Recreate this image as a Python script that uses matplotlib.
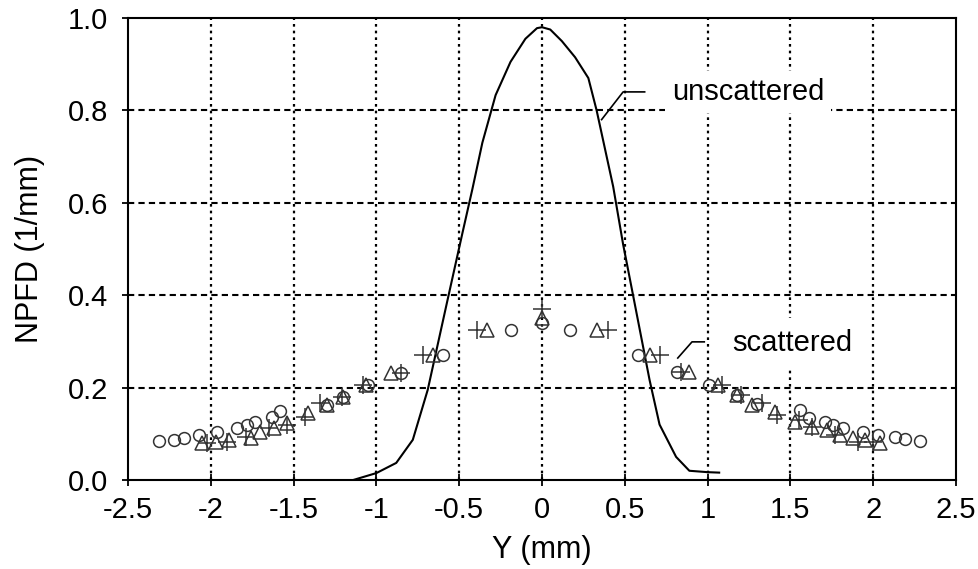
import numpy as np
import matplotlib.pyplot as plt

plt.rcParams['font.family'] = ['Liberation Sans', 'DejaVu Sans']

# unscattered profile (solid line)
y_line = [-1.14, -1.0, -0.88, -0.78, -0.69, -0.57, -0.48, -0.42, -0.36, -0.28, -0.19, -0.10,
          -0.03, 0.0, 0.05, 0.12, 0.20, 0.28, 0.33, 0.43, 0.49, 0.55, 0.65, 0.71, 0.81, 0.89,
          1.0, 1.07]
npfd_line = [0.0, 0.015, 0.037, 0.087, 0.195, 0.39, 0.535, 0.63, 0.73, 0.833, 0.905, 0.955,
             0.978, 0.98, 0.975, 0.95, 0.915, 0.87, 0.80, 0.635, 0.51, 0.40, 0.216, 0.12, 0.05,
             0.02, 0.017, 0.016]

# scattered - circles
y_circ = [-2.31, -2.22, -2.16, -2.07, -1.96, -1.84, -1.78, -1.73, -1.63, -1.58, -1.30, -1.20,
          -1.05, -0.85, -0.60, -0.19, 0.0, 0.17, 0.58, 0.815, 1.01, 1.18, 1.30, 1.56, 1.61,
          1.71, 1.76, 1.82, 1.94, 2.03, 2.13, 2.19, 2.28]
npfd_circ = [0.084, 0.087, 0.091, 0.097, 0.104, 0.112, 0.119, 0.126, 0.136, 0.149, 0.163, 0.18,
             0.205, 0.232, 0.27, 0.325, 0.34, 0.325, 0.27, 0.234, 0.205, 0.185, 0.165, 0.152, 0.134,
             0.126, 0.119, 0.112, 0.104, 0.097, 0.093, 0.089, 0.085]

# scattered - triangles
y_tri = [-2.05, -1.97, -1.89, -1.76, -1.70, -1.62, -1.54, -1.41, -1.30, -1.20, -1.06, -0.91,
         -0.66, -0.33, 0.0, 0.33, 0.65, 0.89, 1.06, 1.18, 1.27, 1.41, 1.53, 1.63, 1.72, 1.80,
         1.88, 1.95, 2.04]
npfd_tri = [0.08, 0.082, 0.086, 0.091, 0.104, 0.112, 0.123, 0.145, 0.162, 0.18, 0.205, 0.232,
            0.27, 0.325, 0.35, 0.325, 0.27, 0.234, 0.205, 0.185, 0.162, 0.147, 0.126, 0.115, 0.108,
            0.097, 0.091, 0.087, 0.08]

# scattered - plus
y_plus = [-2.02, -1.90, -1.79, -1.65, -1.54, -1.43, -1.34, -1.21, -1.08, -0.85, -0.72, -0.39,
          0.0, 0.40, 0.71, 0.84, 1.09, 1.20, 1.33, 1.42, 1.55, 1.63, 1.77, 1.91, 2.0]
npfd_plus = [0.08, 0.082, 0.093, 0.112, 0.12, 0.137, 0.166, 0.18, 0.205, 0.232, 0.27, 0.325,
             0.37, 0.325, 0.27, 0.234, 0.205, 0.183, 0.166, 0.14, 0.13, 0.115, 0.097, 0.083, 0.083]

xticks = [-2.5, -2, -1.5, -1, -0.5, 0, 0.5, 1, 1.5, 2, 2.5]
xtick_labels = ['-2.5', '-2', '-1.5', '-1', '-0.5', '0', '0.5', '1', '1.5', '2', '2.5']
yticks = [0.0, 0.2, 0.4, 0.6, 0.8, 1.0]

fig = plt.figure(figsize=(9.79, 5.69), dpi=100)
ax = fig.add_axes([0.1307, 0.1564, 0.8458, 0.812])

# grid: dotted verticals, dashed horizontals
for xv in xticks[1:-1]:
    ax.axvline(xv, color='black', ls=(0, (1.2, 1.8)), lw=1.6, zorder=0)
for yv in yticks[1:-1]:
    ax.axhline(yv, color='black', ls=(0, (3, 2)), lw=1.5, zorder=0)

ax.plot(y_line, npfd_line, color='black', lw=1.5, zorder=3)
ax.plot(y_circ, npfd_circ, 'o', mfc='none', mec='#333333', ms=8.5, mew=1.1, zorder=4)
ax.plot(y_tri, npfd_tri, '^', mfc='none', mec='#333333', ms=9.5, mew=1.1, zorder=4)
ax.plot(y_plus, npfd_plus, '+', color='#333333', ms=13, mew=1.1, zorder=4)

# labels with leader lines
ax.plot([0.36, 0.49, 0.62], [0.78, 0.84, 0.84], color='black', lw=1.2, zorder=3)
ax.text(0.785, 0.84, 'unscattered', fontsize=21, va='center', ha='left', zorder=2,
        bbox=dict(facecolor='white', edgecolor='none', pad=5))
ax.plot([0.82, 0.906, 0.98], [0.264, 0.299, 0.299], color='black', lw=1.2, zorder=3)
ax.text(1.15, 0.297, 'scattered', fontsize=21, va='center', ha='left', zorder=2,
        bbox=dict(facecolor='white', edgecolor='none', pad=8))

ax.set_xlim(-2.5, 2.5)
ax.set_ylim(0, 1.0)
ax.set_xticks(xticks)
ax.set_xticklabels(xtick_labels)
ax.set_yticks(yticks)
ax.set_yticklabels(['%.1f' % v for v in yticks])
ax.tick_params(direction='inout', length=9, width=1.3, labelsize=21)
ax.tick_params(axis='y', pad=10)
ax.tick_params(axis='x', pad=7)
for s in ax.spines.values():
    s.set_linewidth(1.5)

ax.set_xlabel('Y (mm)', fontsize=22, labelpad=8)
ax.set_ylabel('NPFD (1/mm)', fontsize=22, labelpad=16)

plt.savefig('out.png', dpi=100)
